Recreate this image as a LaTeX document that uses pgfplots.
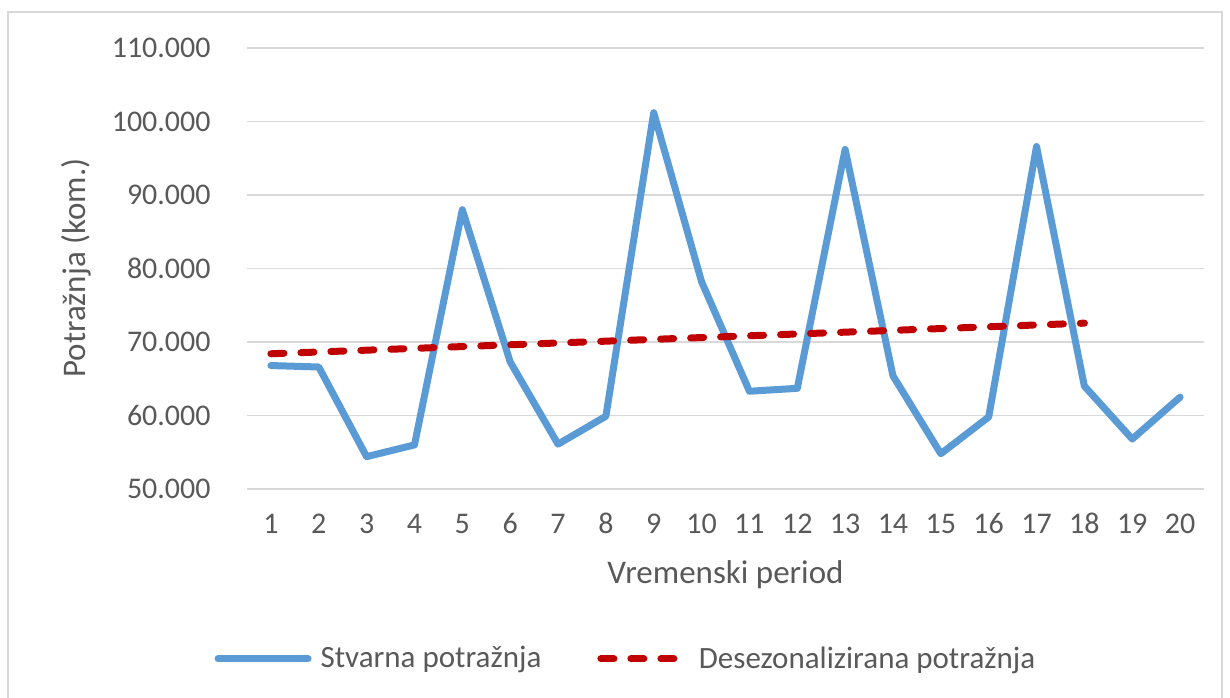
\documentclass[border=0pt]{standalone}
\usepackage{pgfplots}
\pgfplotsset{compat=1.18}
\usepackage{fontspec}
\setmainfont{Carlito}
\definecolor{txt}{HTML}{595959}
\definecolor{gridgray}{HTML}{D9D9D9}
\definecolor{sblue}{HTML}{5B9BD5}
\definecolor{sred}{HTML}{C00000}
\begin{document}
\begin{tikzpicture}
\useasboundingbox (0pt,0pt) rectangle (615pt,-348.5pt);
\draw[gridgray, line width=0.75pt] (4pt,-352pt) -- (4pt,-6pt) -- (611pt,-6pt) -- (611pt,-352pt);
\begin{axis}[
  at={(123.5pt,-244.5pt)}, anchor=south west,
  scale only axis, width=478.5pt, height=220.5pt,
  xmin=0.5, xmax=20.5, ymin=50000, ymax=110000,
  xtick={1,2,3,4,5,6,7,8,9,10,11,12,13,14,15,16,17,18,19,20},
  xticklabels={1,2,3,4,5,6,7,8,9,10,11,12,13,14,15,16,17,18,19,20},
  ytick={50000,60000,70000,80000,90000,100000,110000},
  yticklabels={50.000,60.000,70.000,80.000,90.000,100.000,110.000},
  scaled y ticks=false,
  axis lines=left,
  y axis line style={draw=none},
  x axis line style={gridgray, line width=0.75pt, -},
  major tick length=0pt,
  ymajorgrids,
  major grid style={gridgray, line width=0.75pt},
  tick label style={font=\fontsize{15}{18}\selectfont, text=txt},
  xticklabel style={anchor=base, inner sep=0pt, yshift=-22.25pt},
  yticklabel style={anchor=base east, inner sep=0pt, xshift=-18pt, yshift=-4.75pt},
  xlabel={Vremenski period},
  ylabel={Potražnja (kom.)},
  label style={font=\fontsize{16.5}{19}\selectfont, text=txt},
  xlabel style={at={(axis description cs:0.5,-0.195)}, anchor=center},
  ylabel style={at={(axis description cs:-0.1787,0.501)}, anchor=center},
  legend style={at={(axis description cs:0.397,-0.385)}, anchor=center, draw=none,
    font=\fontsize{15.5}{18}\selectfont, text=txt, nodes={inner sep=2pt},
    /tikz/every even column/.append style={column sep=26pt}},
  legend columns=2,
  clip=false,
]
\addplot[sblue, line width=3.5pt, line join=round, line cap=round,
  legend image code/.code={\draw[sblue, line width=3.5pt, line cap=round] (0pt,0pt) -- (45pt,0pt); \path (47.5pt,0pt);}]
  coordinates {
  (1,66800) (2,66600) (3,54400) (4,56000) (5,88000) (6,67300) (7,56100) (8,59900) (9,101200) (10,78200)
  (11,63300) (12,63700) (13,96200) (14,65400) (15,54800) (16,59800) (17,96600) (18,64000) (19,56800) (20,62500)
  };
\addlegendentry{Stvarna potražnja}
\addplot[sred, line width=3.5pt, line cap=round, dash pattern=on 6.5pt off 8.5pt,
  legend image code/.code={\draw[sred, line width=3.5pt, line cap=round, dash pattern=on 6.5pt off 8.5pt] (1.75pt,0pt) -- (40pt,0pt); \path (47pt,0pt);}]
  coordinates {
  (1,68400) (2,68645) (3,68890) (4,69135) (5,69380) (6,69625) (7,69870) (8,70115) (9,70360)
  (10,70605) (11,70850) (12,71095) (13,71340) (14,71585) (15,71830) (16,72075) (17,72320) (18,72565)
  };
\addlegendentry{Desezonalizirana potražnja}
\end{axis}
\end{tikzpicture}
\end{document}
